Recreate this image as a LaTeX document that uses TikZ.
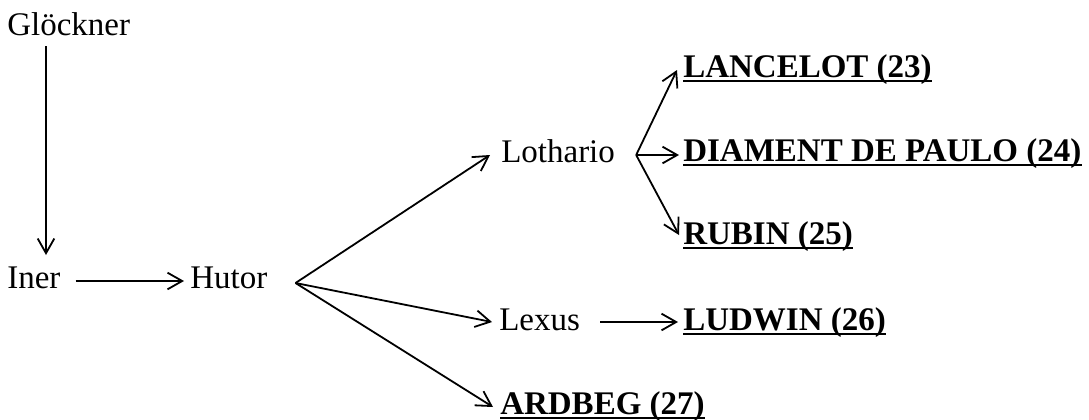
\documentclass[tikz,border=0pt]{standalone}
\usepackage{fontspec}
\setmainfont{Liberation Serif}
\usetikzlibrary{arrows.meta,calc}
\begin{document}
\begin{tikzpicture}[x=0.75pt,y=-0.75pt,
  lbl/.style={anchor=base west,inner sep=0pt,font=\fontsize{24.75}{30}\selectfont},
  bld/.style={anchor=base west,inner sep=0pt,font=\fontsize{24.75}{30}\selectfont\bfseries},
  arr/.style={line width=1.35pt,-{Straight Barb[length=11pt,width=12.5pt]}},
  uline/.style={line width=1.2pt}]
\useasboundingbox (0,0) rectangle (1089,419);
% nodes
\node[lbl] (glo) at (7,35) {Glöckner};
\node[lbl] (ine) at (7,288) {Iner};
\node[lbl] (hut) at (190,288) {Hutor};
\node[lbl] (lot) at (501,162) {Lothario};
\node[lbl] (lex) at (499,330) {Lexus};
\node[bld] (lan) at (683,77) {LANCELOT (23)};
\node[bld] (dia) at (683,161) {DIAMENT DE PAULO (24)};
\node[bld] (rub) at (683,244) {RUBIN (25)};
\node[bld] (lud) at (683,330) {LUDWIN (26)};
\node[bld] (ard) at (500,414) {ARDBEG (27)};
% underlines
\foreach \n in {lan,dia,rub,lud,ard}
  \draw[uline] ($(\n.base west)+(0,4)$) -- ($(\n.base east)+(0,4)$);
% junctions
\coordinate (hb) at ($(hut.base east)+(28,-5)$);
\coordinate (lb) at ($(lot.base east)+(21,-7)$);
% connectors
\draw[arr] ($(glo.base west)+(39,11)$) -- ($(ine.base west)+(39,-33)$);
\draw[arr] ($(ine.base east)+(15,-7)$) -- ($(hut.base west)+(-6,-7)$);
\draw[arr] (hb) -- ($(lot.base west)+(-11,-7)$);
\draw[arr] (hb) -- ($(lex.base west)+(-7,-8)$);
\draw[arr] (hb) -- ($(ard.base west)+(-7,-7)$);
\draw[arr] (lb) -- ($(lan.base west)+(-6,-7)$);
\draw[arr] (lb) -- ($(dia.base west)+(-4,-6)$);
\draw[arr] (lb) -- ($(rub.base west)+(-4,-9)$);
\draw[arr] ($(lex.base east)+(20,-8)$) -- ($(lud.base west)+(-5,-8)$);
\end{tikzpicture}
\end{document}
